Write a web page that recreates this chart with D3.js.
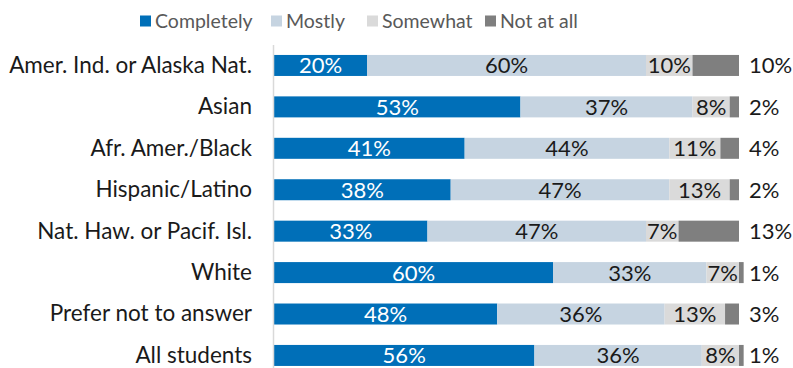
<!DOCTYPE html>
<html>
<head>
<meta charset="utf-8">
<script src="https://cdn.jsdelivr.net/npm/d3@7"></script>
<style>
  html, body { margin: 0; padding: 0; background: #fff; }
  svg { display: block; font-family: Lato, "Open Sans", sans-serif; }
</style>
</head>
<body>
<svg id="chart" width="793" height="368"></svg>
<script>
// Student groups, top to bottom
const categories = [
  "Amer. Ind. or Alaska Nat.",
  "Asian",
  "Afr. Amer./Black",
  "Hispanic/Latino",
  "Nat. Haw. or Pacif. Isl.",
  "White",
  "Prefer not to answer",
  "All students"
];

// Response levels (stack order, left to right)
const seriesNames = ["Completely", "Mostly", "Somewhat", "Not at all"];

// Percent of students per response level, one entry per group
const completely = [20, 53, 41, 38, 33, 60, 48, 56];
const mostly     = [60, 37, 44, 47, 47, 33, 36, 36];
const somewhat   = [10,  8, 11, 13,  7,  7, 13,  8];
const notAtAll   = [10,  2,  4,  2, 13,  1,  3,  1];

const colors = ["#006fb8", "#c6d4e1", "#dadada", "#7f7f7f"];
const labelColors = ["#ffffff", "#1a1a1a", "#1a1a1a", "#1a1a1a"];

const rows = categories.map((c, i) => ({
  category: c,
  "Completely": completely[i],
  "Mostly": mostly[i],
  "Somewhat": somewhat[i],
  "Not at all": notAtAll[i]
}));

const svg = d3.select("#chart");
const margin = { left: 274, right: 54 };
const width = 793;

const x = d3.scaleLinear().domain([0, 100]).range([margin.left, width - margin.right]);
const y = d3.scaleBand().domain(categories)
  .range([44.6, 376.3]).paddingInner(0.493).paddingOuter(0.25);

const stack = d3.stack().keys(seriesNames);
const layers = stack(rows);

// Bars
const g = svg.append("g");
layers.forEach((layer, li) => {
  g.selectAll(null).data(layer).enter().append("rect")
    .attr("x", d => x(d[0]))
    .attr("y", d => y(d.data.category))
    .attr("width", d => x(d[1]) - x(d[0]))
    .attr("height", y.bandwidth())
    .attr("fill", colors[li]);
});

// Vertical category axis line
svg.append("line")
  .attr("x1", margin.left - 0.5).attr("x2", margin.left - 0.5)
  .attr("y1", 45).attr("y2", 368)
  .attr("stroke", "#d9d9d9").attr("stroke-width", 1.5);

// Category labels
const yAxis = d3.axisLeft(y).tickSize(0).tickPadding(22);
const ax = svg.append("g").attr("transform", `translate(${margin.left},0)`).call(yAxis);
ax.select(".domain").remove();
ax.selectAll("text")
  .attr("font-size", 22.5).attr("fill", "#1a1a1a")
  .attr("dy", "0.33em")
  .attr("font-family", "Lato, sans-serif");

// Value labels: centred inside for the first three levels, outside the bar end for the last
layers.forEach((layer, li) => {
  const last = li === layers.length - 1;
  svg.selectAll(null).data(layer).enter().append("text")
    .attr("x", d => last ? x(100) + 10 : (x(d[0]) + x(d[1])) / 2)
    .attr("y", d => y(d.data.category) + y.bandwidth() / 2)
    .attr("dy", "0.36em")
    .attr("text-anchor", last ? "start" : "middle")
    .attr("font-size", 22)
    .attr("fill", labelColors[li])
    .text(d => (d[1] - d[0]) + "%");
});

// Legend
const legendX = [140, 271, 367, 485];
const legend = svg.append("g");
seriesNames.forEach((name, i) => {
  legend.append("rect")
    .attr("x", legendX[i]).attr("y", 15.5)
    .attr("width", 11).attr("height", 11)
    .attr("fill", colors[i]);
  legend.append("text")
    .attr("x", legendX[i] + 15).attr("y", 21)
    .attr("dy", "0.38em")
    .attr("font-size", 19.5).attr("fill", "#595959")
    .text(name);
});
</script>
</body>
</html>
